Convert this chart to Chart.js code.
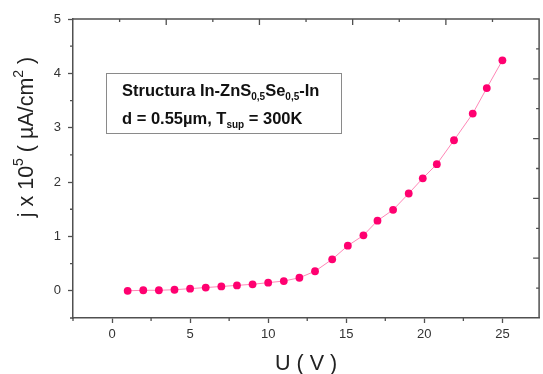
<!DOCTYPE html>
<html>
<head>
<meta charset="utf-8">
<script src="https://cdn.jsdelivr.net/npm/chart.js@4"></script>
<style>
  html, body { margin: 0; padding: 0; background: #fff; }
  #wrap { width: 543px; height: 374px; position: relative; }
</style>
</head>
<body>
<div id="wrap"><canvas id="ivChart"></canvas></div>
<script>
  // U (V) and j x 10^5 (uA/cm^2)
  const voltage = [1, 2, 3, 4, 5, 6, 7, 8, 9, 10, 11, 12, 13, 14.1, 15.1, 16.1, 17, 18, 19, 19.9, 20.8, 21.9, 23.1, 24, 25];
  const currentDensity = [0, 0.01, 0.01, 0.02, 0.04, 0.06, 0.08, 0.1, 0.12, 0.15, 0.18, 0.24, 0.36, 0.58, 0.83, 1.02, 1.29, 1.49, 1.79, 2.07, 2.33, 2.77, 3.26, 3.73, 4.24];

  const xTicks = [0, 5, 10, 15, 20, 25];
  const xMinorTicks = [-2.5, 2.5, 7.5, 12.5, 17.5, 22.5];
  const yTicks = [0, 1, 2, 3, 4, 5];
  const yMinorTicks = [-0.5, 0.5, 1.5, 2.5, 3.5, 4.5];
  // Origin's linked top / right layers: 0..10, ticks every 1
  const frameTicks = [1, 2, 3, 4, 5, 6, 7, 8, 9];

  const AXIS = '#505050';
  const FONT = 'Arial, "Liberation Sans", sans-serif';

  // -------------------- helpers --------------------
  function drawRich(ctx, parts, x, y) {
    // parts: [text, size, weight, dy]
    let cx = x;
    parts.forEach(p => {
      ctx.font = p[2] + ' ' + p[1] + 'px ' + FONT;
      ctx.fillText(p[0], cx, y + p[3]);
      cx += ctx.measureText(p[0]).width;
    });
    return cx - x;
  }

  function richWidth(ctx, parts) {
    let w = 0;
    parts.forEach(p => {
      ctx.font = p[2] + ' ' + p[1] + 'px ' + FONT;
      w += ctx.measureText(p[0]).width;
    });
    return w;
  }

  const decorPlugin = {
    id: 'decor',
    afterDraw(chart) {
      const ctx = chart.ctx;
      const { left, right, top, bottom } = chart.chartArea;
      const sx = chart.scales.x, sy = chart.scales.y;
      const sTop = chart.scales.xTop, sRight = chart.scales.yRight;
      ctx.save();
      ctx.strokeStyle = AXIS;
      ctx.lineWidth = 1.5;

      // top + right frame lines
      ctx.beginPath();
      ctx.moveTo(left, top);
      ctx.lineTo(right, top);
      ctx.lineTo(right, bottom);
      ctx.stroke();

      ctx.lineWidth = 1.3;
      ctx.beginPath();
      // minor ticks outside, bottom and left
      xMinorTicks.forEach(v => {
        const px = sx.getPixelForValue(v);
        ctx.moveTo(px, bottom); ctx.lineTo(px, bottom + 3);
      });
      yMinorTicks.forEach(v => {
        const py = sy.getPixelForValue(v);
        ctx.moveTo(left, py); ctx.lineTo(left - 3, py);
      });
      // inward ticks on top and right
      frameTicks.forEach(v => {
        const len = v % 2 === 0 ? 6 : 3;
        const px = sTop.getPixelForValue(v);
        ctx.moveTo(px, top); ctx.lineTo(px, top + len);
        const py = sRight.getPixelForValue(v);
        ctx.moveTo(right, py); ctx.lineTo(right - len, py);
      });
      ctx.stroke();

      // annotation box
      ctx.strokeStyle = '#8a8a8a';
      ctx.lineWidth = 1;
      ctx.strokeRect(106.5, 73.5, 235, 60);
      ctx.fillStyle = '#111';
      ctx.textBaseline = 'alphabetic';
      ctx.textAlign = 'left';
      drawRich(ctx, [
        ['Structura In-ZnS', 16.5, 'bold', 0],
        ['0,5', 10, 'bold', 4],
        ['Se', 16.5, 'bold', 0],
        ['0,5', 10, 'bold', 4],
        ['-In', 16.5, 'bold', 0]
      ], 122, 96);
      drawRich(ctx, [
        ['d = 0.55\u00b5m, T', 16.5, 'bold', 0],
        ['sup', 10, 'bold', 4],
        [' = 300K', 16.5, 'bold', 0]
      ], 122, 124);

      // axis titles
      ctx.fillStyle = '#222';
      const xTitle = [['U ( V )', 21.5, 'normal', 0]];
      const xw = richWidth(ctx, xTitle);
      drawRich(ctx, xTitle, (left + right) / 2 - xw / 2, 370);

      const yTitle = [
        ['j x 10', 21.5, 'normal', 0],
        ['5', 14, 'normal', -10],
        [' ( \u00b5A/cm', 21.5, 'normal', 0],
        ['2', 14, 'normal', -10],
        [' )', 21.5, 'normal', 0]
      ];
      const yw = richWidth(ctx, yTitle);
      ctx.translate(33, 137);
      ctx.rotate(-Math.PI / 2);
      drawRich(ctx, yTitle, -yw / 2, 0);
      ctx.restore();
    }
  };

  new Chart(document.getElementById('ivChart'), {
    type: 'scatter',
    data: {
      datasets: [{
        data: voltage.map((u, i) => ({ x: u, y: currentDensity[i] })),
        showLine: true,
        borderColor: '#ff86b6',
        borderWidth: 1,
        pointRadius: 3.9,
        pointHoverRadius: 3.9,
        pointBackgroundColor: '#ff0070',
        pointBorderColor: '#ff0070',
        pointBorderWidth: 0,
        tension: 0
      }]
    },
    options: {
      responsive: true,
      maintainAspectRatio: false,
      animation: false,
      events: [],
      layout: { padding: { top: 19, right: 1, left: 0, bottom: 0 } },
      plugins: {
        legend: { display: false },
        tooltip: { enabled: false }
      },
      scales: {
        x: {
          type: 'linear',
          min: -2.5,
          max: 27.35,
          afterBuildTicks: s => { s.ticks = xTicks.map(v => ({ value: v })); },
          afterFit: s => { s.height = 56; },
          grid: { drawOnChartArea: false, drawTicks: true, tickLength: 5, tickColor: AXIS, tickWidth: 1.3 },
          border: { color: AXIS, width: 1.5 },
          ticks: { color: '#333', font: { family: FONT, size: 13 }, padding: 4, maxRotation: 0 }
        },
        y: {
          type: 'linear',
          min: -0.5,
          max: 5,
          afterBuildTicks: s => { s.ticks = yTicks.map(v => ({ value: v })); },
          afterFit: s => { s.width = 73; },
          grid: { drawOnChartArea: false, drawTicks: true, tickLength: 5, tickColor: AXIS, tickWidth: 1.3 },
          border: { color: AXIS, width: 1.5 },
          ticks: { color: '#333', font: { family: FONT, size: 13 }, padding: 7 }
        },
        xTop: { type: 'linear', position: 'top', display: false, min: 0, max: 10 },
        yRight: { type: 'linear', position: 'right', display: false, min: 0, max: 10 }
      }
    },
    plugins: [decorPlugin]
  });
</script>
</body>
</html>
